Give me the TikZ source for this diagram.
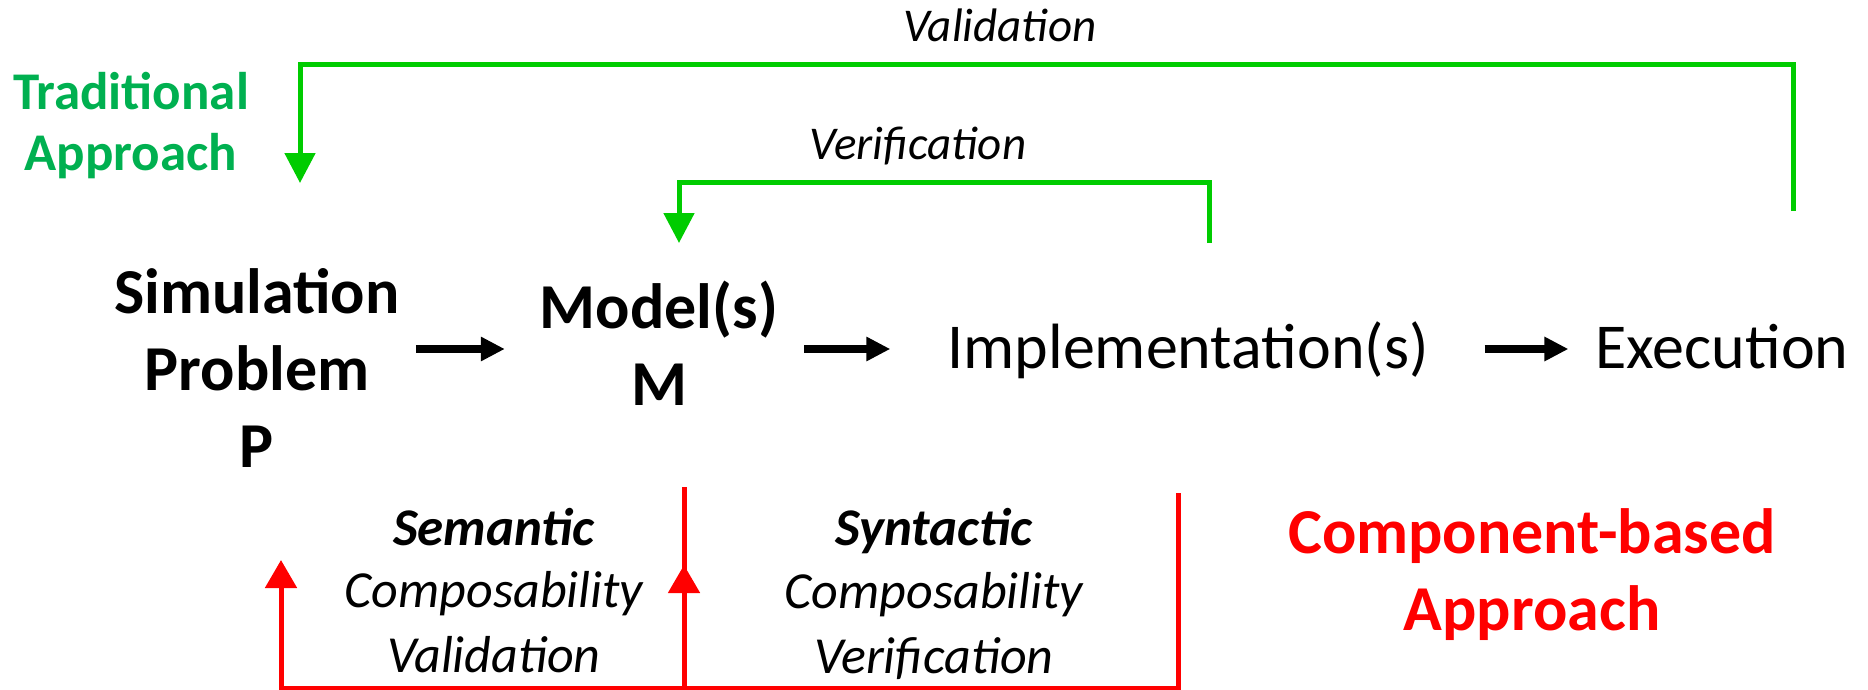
\documentclass[tikz,border=0pt]{standalone}
\usepackage{fontspec}
\setmainfont{Carlito}
\usetikzlibrary{arrows.meta,calc}
\definecolor{loopgreen}{RGB}{0,204,0}
\definecolor{tradgreen}{RGB}{0,176,80}
\definecolor{cbred}{RGB}{255,0,0}
\begin{document}
\begin{tikzpicture}[x=1pt,y=1pt,
  txt/.style={inner sep=0pt, anchor=base, align=center},
  stage/.style={txt, font=\fontsize{64}{77}\selectfont},
  stagebold/.style={txt, font=\bfseries\fontsize{64}{77}\selectfont},
  looplabel/.style={txt, font=\itshape\fontsize{47}{56}\selectfont},
  compolabel/.style={txt, font=\itshape\fontsize{52}{69}\selectfont},
  compohead/.style={compolabel, font=\bfseries\itshape\fontsize{53}{69}\selectfont},
  flow/.style={line width=8pt, -{Triangle[length=24pt,width=23pt]}},
  vvloop/.style={loopgreen, line width=5pt, -{Triangle[length=30pt,width=30pt]}},
  cbloop/.style={cbred, line width=5pt, -{Triangle[length=28pt,width=31pt]}}
]
\useasboundingbox (0,0) rectangle (1868,-690);

% approach titles
\node[txt, text=tradgreen, font=\bfseries\fontsize{53}{61}\selectfont]
  (trad) at (131,-170) {Traditional\\Approach};
\node[txt, text=cbred, font=\bfseries\fontsize{64}{77}\selectfont]
  (cba) at (1532,-630) {Component-based\\Approach};

% the four stages
\node[stagebold] (sim) at (257,-467) {Simulation\\Problem\\P};
\node[stagebold] (model) at (659,-405) {Model(s)\\M};
\node[stage] (impl) at (1188,-368) {Implementation(s)};
\node[stage] (exec) at (1722,-368) {Execution};

% forward flow
\coordinate (row) at (0,-349);
\draw[flow] ([xshift=16pt]sim.east |- row) -- ([xshift=-35pt]model.west |- row);
\draw[flow] ([xshift=-143pt]impl.west |- row) -- ([xshift=-57pt]impl.west |- row);
\draw[flow] ([xshift=56pt]impl.east |- row) -- ([xshift=-27pt]exec.west |- row);

% traditional feedback loops
\node[looplabel] (vallbl) at (1000,-42) {Validation};
\node[looplabel] (verlbl) at (918,-160) {Verification};
\draw[vvloop] ($(exec.base)+(71,157)$) |- (vallbl.base |- 0,-65) -| ($(sim.base)+(43,284)$);
\draw[vvloop] ($(impl.base)+(21,125)$) |- (verlbl.base |- 0,-182) -| ($(model.base)+(20,162)$);

% component-based composability loops
\node[compohead] (semhead) at (494,-545) {Semantic};
\node[compolabel] (sem) at (494,-672) {Composability\\[-4pt]Validation};
\node[compohead] (synhead) at (934,-545) {Syntactic};
\node[compolabel] (syn) at (934,-673) {Composability\\[-4pt]Verification};
\draw[cbloop] ($(model.base)+(25,-82)$) |- (sem.base |- 0,-688) -| ($(sim.base)+(24,-93)$);
\draw[cbloop] ($(impl.base)+(-10,-125)$) |- (syn.base |- 0,-688) -| ($(model.base)+(25,-160)$);
\end{tikzpicture}
\end{document}
